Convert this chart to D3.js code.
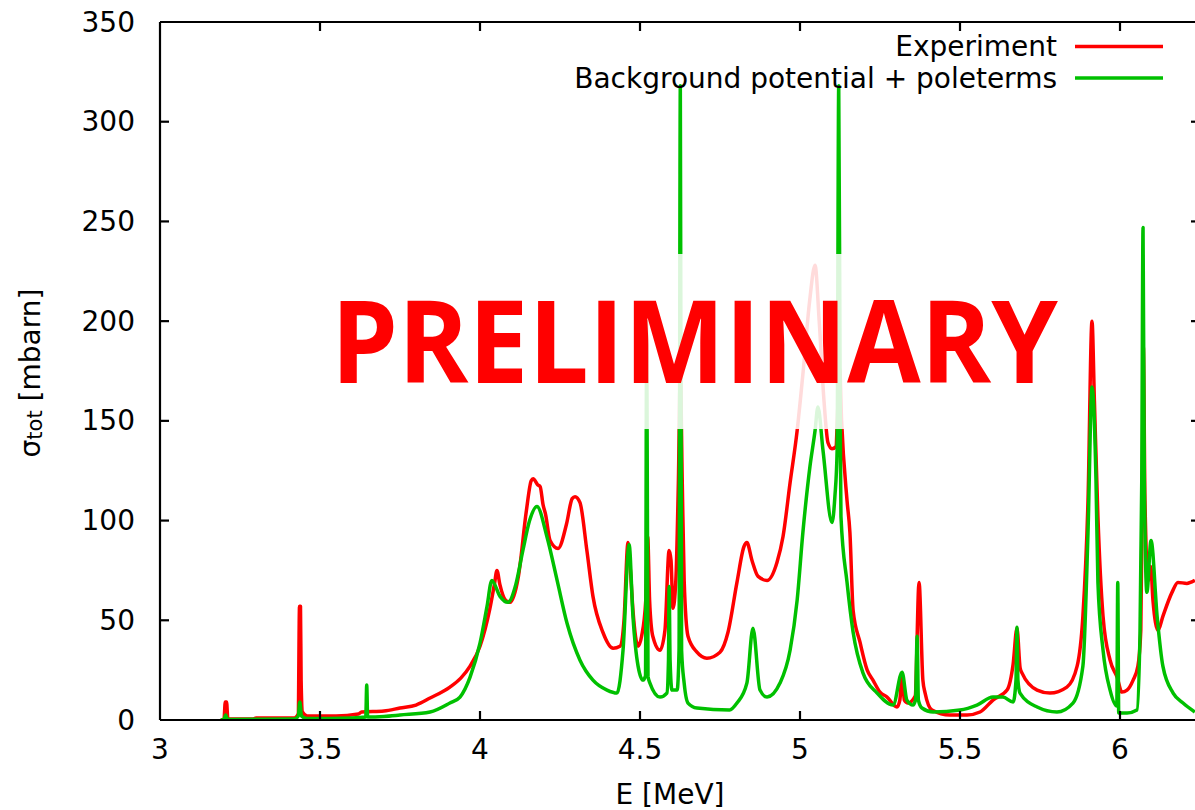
<!DOCTYPE html>
<html><head><meta charset="utf-8">
<script src="https://cdn.jsdelivr.net/npm/d3@7"></script>
<style>body{margin:0;background:#fff}svg{display:block}</style>
</head><body>
<svg id="c" width="1195" height="810"></svg>
<script>
// ---- data ----
const expE = [3.190,3.200,3.204,3.208,3.212,3.29,3.30,3.42,3.432,3.436,3.439,3.441,3.445,3.46,3.55,3.62,3.63,3.70,3.75,3.80,3.844,3.906,3.94,3.969,4.00,4.031,4.045,4.053,4.062,4.08,4.094,4.12,4.145,4.160,4.166,4.180,4.188,4.197,4.205,4.219,4.244,4.27,4.288,4.297,4.3125,4.334,4.353,4.384,4.416,4.4375,4.450,4.4625,4.470,4.478,4.494,4.505,4.518,4.524,4.530,4.540,4.5625,4.578,4.591,4.597,4.603,4.612,4.620,4.626,4.632,4.638,4.65,4.678,4.709,4.75,4.775,4.803,4.825,4.834,4.85,4.869,4.897,4.928,4.947,4.969,4.991,5.01,5.03,5.047,5.06,5.075,5.0875,5.10,5.112,5.119,5.124,5.130,5.147,5.156,5.166,5.1875,5.21,5.228,5.25,5.272,5.303,5.312,5.319,5.326,5.3375,5.360,5.372,5.384,5.391,5.4125,5.469,5.522,5.5625,5.603,5.647,5.666,5.678,5.688,5.694,5.741,5.781,5.834,5.866,5.884,5.90,5.9125,5.92,5.931,5.947,5.969,5.991,6.006,6.022,6.041,6.056,6.065,6.070,6.073,6.078,6.088,6.096,6.103,6.119,6.134,6.1625,6.181,6.209,6.234];
const expS = [0,0.5,9,9,0.5,0.5,1,1,3,57,57,20,4,2,2,3,4,4.5,6,7.5,11,16.5,21,27,37,56,68,75,68,60,59,72,105,120,121,118,117,108,103,90,86,98,111,112,109,85,62,44,36,37,50,89,75,55,37,42,60,92,60,42,35,45,85,80,56,70,120,174,120,70,42,34,31,34,44,69,87,89,80,72,70,79,92,119,145,175,210,228,200,160,139,136,137,160,176,150,110,94,55,39,25,20,14,11.5,6.5,10,23,10,8.5,12,69,20,13.5,5,2.5,2.5,4,10,15,28,46,26,23.5,15,13.5,16.5,27,52,110,200,160,102,52,30,21.5,14,15,20,27,45,120,187,110,70,77,60,45,52,64,69,68.5,70];

const thE = [3.190,3.200,3.205,3.211,3.42,3.432,3.437,3.442,3.46,3.60,3.643,3.646,3.649,3.70,3.75,3.844,3.906,3.9375,3.969,4.0,4.022,4.037,4.0625,4.087,4.112,4.134,4.155,4.178,4.209,4.241,4.272,4.3125,4.353,4.397,4.428,4.447,4.466,4.478,4.494,4.509,4.517,4.521,4.525,4.531,4.5625,4.584,4.589,4.591,4.594,4.600,4.616,4.622,4.626,4.630,4.638,4.65,4.678,4.78,4.803,4.834,4.853,4.875,4.897,4.9375,4.969,4.991,5.009,5.031,5.047,5.056,5.072,5.1,5.109,5.116,5.121,5.126,5.128,5.147,5.166,5.197,5.241,5.291,5.319,5.334,5.353,5.361,5.366,5.370,5.381,5.416,5.5,5.553,5.603,5.634,5.666,5.675,5.678,5.681,5.6875,5.741,5.803,5.853,5.884,5.9,5.9125,5.925,5.931,5.947,5.969,5.99,5.993,5.996,6.022,6.053,6.0625,6.068,6.072,6.076,6.084,6.097,6.116,6.134,6.166,6.197,6.234];
const thS = [0,0.3,2.5,0.3,0.5,2,9,2,0.7,1,1.5,17.5,1.5,1.8,2.5,4,8.5,11.5,21.5,38.5,57,70,62,59,68,85,100,107,92,70,48.5,30,20,15,13.5,35,88,52,27,20,22,200,22,18.5,11.5,13.5,30,67,30,15,15,35,318,35,18.5,8.5,6,5,8.5,18.5,46,15,11.5,18.5,35,60,94,127,145,157,135,99,112,135,318,145,102,69,44,23.5,13.5,7.5,24,10,7.5,10,42,10,6,4,5,7.5,11.5,11.5,9,20,46.5,20,13.5,6.5,4,8.5,27,94,167,120,69,35,15,7,69,3.5,3.5,5,43.5,120,247,120,64,90,52,27,13.5,8.5,4];

const xTicks = [3,3.5,4,4.5,5,5.5,6];
const yTicks = [0,50,100,150,200,250,300,350];
const seriesNames = ["Experiment","Background potential + poleterms"];
const seriesColors = ["#ff0000","#00c000"];

// ---- layout ----
const L = 160, R = 1200, T = 22, B = 720;
const svg = d3.select("#c");
const x = d3.scaleLinear().domain([3, 6.25]).range([L, R]);
const y = d3.scaleLinear().domain([0, 350]).range([B, T]);
const font = "'DejaVu Sans', sans-serif";
const fs = "28px";

svg.append("defs").append("clipPath").attr("id","clip")
  .append("rect").attr("x",L).attr("y",T).attr("width",R-L).attr("height",B-T);

const line = d3.line().curve(d3.curveMonotoneX).x(d=>x(d[0])).y(d=>y(d[1]));
const g = svg.append("g").attr("clip-path","url(#clip)");
g.append("path").datum(d3.zip(expE, expS)).attr("d", line)
  .attr("fill","none").attr("stroke",seriesColors[0]).attr("stroke-width",3.5).attr("stroke-linejoin","round");
g.append("path").datum(d3.zip(thE, thS)).attr("d", line)
  .attr("fill","none").attr("stroke",seriesColors[1]).attr("stroke-width",3.5).attr("stroke-linejoin","round");

// semi-transparent box behind the watermark
svg.append("rect").attr("x",322).attr("y",254).attr("width",743).attr("height",175)
  .attr("fill","#fff").attr("fill-opacity",0.86);
svg.append("text").attr("x",331).attr("y",383)
  .attr("textLength",727).attr("lengthAdjust","spacingAndGlyphs")
  .style("font-family","'Open Sans', Lato, sans-serif").style("font-weight",700)
  .style("font-size","115px").attr("fill","#ff0000").text("PRELIMINARY");

// frame
const frame = svg.append("g").attr("stroke","#000").attr("stroke-width",2.2).attr("fill","none");
frame.append("path").attr("d",`M${L},${B}H${R}M${L},${B}V${T}M${L},${T}H${R}M${R},${T}V${B}`);

// ticks (inward, mirrored)
const tk = 9;
xTicks.forEach(v=>{
  const px = x(v);
  if (v>3) {
    frame.append("line").attr("x1",px).attr("x2",px).attr("y1",B).attr("y2",B-tk);
    frame.append("line").attr("x1",px).attr("x2",px).attr("y1",T).attr("y2",T+tk);
  }
  svg.append("text").attr("x",px).attr("y",749).attr("text-anchor","middle")
    .attr("dominant-baseline","central").style("font-family",font).style("font-size",fs).text(v);
});
yTicks.forEach(v=>{
  const py = y(v);
  if (v>0 && v<350) {
    frame.append("line").attr("x1",L).attr("x2",L+tk).attr("y1",py).attr("y2",py);
    frame.append("line").attr("x1",R).attr("x2",R-tk).attr("y1",py).attr("y2",py);
  }
  svg.append("text").attr("x",135).attr("y",py).attr("text-anchor","end")
    .attr("dominant-baseline","central").style("font-family",font).style("font-size",fs).text(v);
});

// axis titles
svg.append("text").attr("x",670).attr("y",794).attr("text-anchor","middle")
  .attr("dominant-baseline","central").style("font-family",font).style("font-size",fs).text("E [MeV]");
const yt = svg.append("text").attr("transform","translate(30,373) rotate(-90)")
  .attr("text-anchor","middle").attr("dominant-baseline","central")
  .style("font-family",font).style("font-size",fs);
yt.append("tspan").text("σ");
yt.append("tspan").attr("baseline-shift","-25%").style("font-size","21px").text("tot");
yt.append("tspan").text(" [mbarn]");

// legend
seriesNames.forEach((n,i)=>{
  const ly = 46.5 + i*31.5;
  svg.append("text").attr("x",1057).attr("y",ly).attr("text-anchor","end")
    .attr("dominant-baseline","central").style("font-family",font).style("font-size",fs).text(n);
  svg.append("line").attr("x1",1075).attr("x2",1163).attr("y1",ly).attr("y2",ly)
    .attr("stroke",seriesColors[i]).attr("stroke-width",3.5);
});
</script>
</body></html>
